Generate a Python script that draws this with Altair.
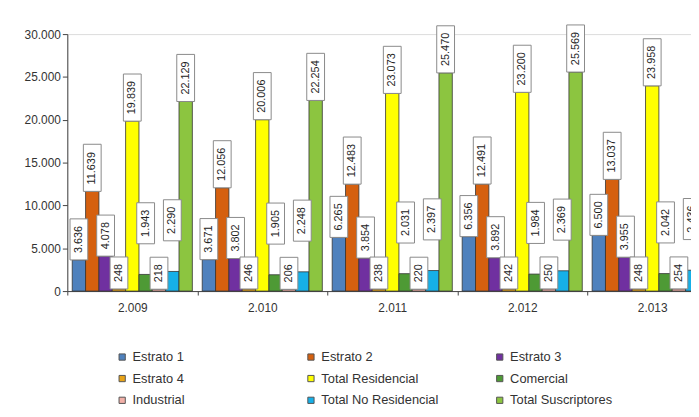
import altair as alt
import pandas as pd

years = ["2.009", "2.010", "2.011", "2.012", "2.013"]
series = ["Estrato 1", "Estrato 2", "Estrato 3", "Estrato 4", "Total Residencial",
          "Comercial", "Industrial", "Total No Residencial", "Total Suscriptores"]

estrato1 = [3636, 3671, 6265, 6356, 6500]
estrato2 = [11639, 12056, 12483, 12491, 13037]
estrato3 = [4078, 3802, 3854, 3892, 3955]
estrato4 = [248, 246, 238, 242, 248]
total_residencial = [19839, 20006, 23073, 23200, 23958]
comercial = [1943, 1905, 2031, 1984, 2042]
industrial = [218, 206, 220, 250, 254]
total_no_residencial = [2290, 2248, 2397, 2369, 2436]
total_suscriptores = [22129, 22254, 25470, 25569, 26394]

colors = ["#4f81bd", "#d5600f", "#7030a0", "#e8a317", "#ffff00",
          "#4e9a35", "#f2b0a8", "#16b0e8", "#8cc540"]

values = [estrato1, estrato2, estrato3, estrato4, total_residencial,
          comercial, industrial, total_no_residencial, total_suscriptores]

# layout constants (pixels)
PLOT_H = 260
Y_MAX = 30000
UNIT = Y_MAX / PLOT_H  # data units per pixel
raised = {"Comercial", "Total No Residencial"}

rows = []
for s, vals in zip(series, values):
    for y, v in zip(years, vals):
        lab = f"{v:,}".replace(",", ".")
        ndig = sum(c.isdigit() for c in lab)
        ndot = lab.count(".")
        box_px = 6.12 * ndig + 3.06 * ndot + 14
        anchor = v + (31 * UNIT if s in raised else 0)
        rows.append({"year": y, "serie": s, "value": v, "label": lab,
                     "anchor": anchor, "box_top": anchor + box_px * UNIT})
df = pd.DataFrame(rows)

FONT = "Liberation Sans"

x_enc = alt.X("year:N", sort=years,
              scale=alt.Scale(range=[0, 657.5], paddingInner=0, paddingOuter=0),
              axis=alt.Axis(title=None, labelAngle=0, tickBand="extent", labelFontSize=12,
                            labelColor="#333", labelFont=FONT, domainColor="#444",
                            tickColor="#444", tickSize=4, labelPadding=8))
xo_enc = alt.XOffset("serie:N", sort=series,
                     scale=alt.Scale(paddingOuter=0.37, paddingInner=0))

base = alt.Chart(df)

bars = base.mark_bar(stroke="#333333", strokeWidth=0.8).encode(
    x=x_enc,
    xOffset=xo_enc,
    y=alt.Y("value:Q", scale=alt.Scale(domain=[0, Y_MAX], nice=False),
            axis=alt.Axis(title=None, values=[0, 5000, 10000, 15000, 20000, 25000, 30000],
                          grid=False, labelExpr="replace(format(datum.value, ','), ',', '.')",
                          labelFontSize=12, labelColor="#333", labelFont=FONT,
                          domainColor="#444", tickColor="#444", tickSize=5)),
    color=alt.Color("serie:N", sort=series,
                    scale=alt.Scale(domain=series, range=colors),
                    legend=alt.Legend(title=None, orient="none", legendX=49, legendY=320,
                                      direction="horizontal",
                                      columns=3, gridAlign="all", columnPadding=55,
                                      rowPadding=8, symbolType="square", symbolSize=40,
                                      symbolStrokeColor="#555", symbolStrokeWidth=1,
                                      labelFontSize=13, labelColor="#333", labelFont=FONT,
                                      labelOffset=4, padding=0)),
)

boxes = base.mark_bar(width=18, fill="white", stroke="#8a8a8a", strokeWidth=1).encode(
    x=x_enc,
    xOffset=xo_enc,
    y=alt.Y("anchor:Q"),
    y2=alt.Y2("box_top:Q"),
)

texts = base.mark_text(angle=270, align="left", baseline="middle", dx=7,
                       fontSize=11, font=FONT, color="#222").encode(
    x=x_enc,
    xOffset=xo_enc,
    y=alt.Y("anchor:Q"),
    text="label:N",
)

chart = alt.layer(bars, boxes, texts).properties(
    width=631, height=PLOT_H,
    autosize=alt.AutoSizeParams(type="none"),
    padding={"left": 60, "top": 24, "right": 0, "bottom": 125},
).configure_view(stroke=None).configure(background="white")

chart.save("out.html", embed_options={"renderer": "svg", "actions": False})
